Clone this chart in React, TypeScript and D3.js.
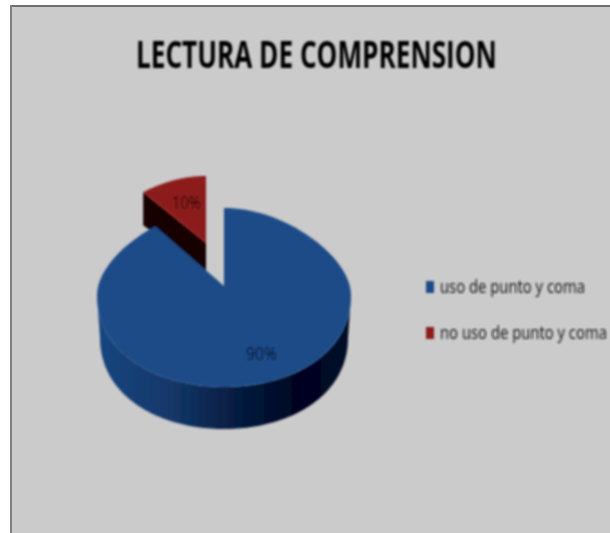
import React, { useLayoutEffect, useRef } from "react";
import * as d3 from "d3";

const categories = ["uso de punto y coma", "no uso de punto y coma"];
const values = [90, 10];
const labels = ["90%", "10%"];
const title = "LECTURA DE COMPRENSION";
const colors = ["#1c4b88", "#8c1c1c"];

const W = 610, H = 533;
const cx = 224, cy = 286;
const rx = 127, ryTop = 78, ryBottom = 101, drop = 10;

type Pt = [number, number];
const arcPoints = (a0: number, a1: number, rX: number, rTop: number, rBot: number, ox: number, oy: number): Pt[] =>
  d3.range(0, 121).map((i) => {
    const a = a0 + ((a1 - a0) * i) / 120;
    const c = Math.cos(a), s = Math.sin(a);
    const narrow = c > 0 ? 1 - 0.12 * c * c : 1;
    return [ox + rX * s * narrow, oy + drop * s * s - (c > 0 ? rTop : rBot) * c] as Pt;
  });

const line = d3.line<Pt>();

// Text squeezed horizontally to span a given width, starting at x.
function FitText({ x, y, width, size, weight, fill, children }: any) {
  const ref = useRef<SVGTextElement>(null);
  useLayoutEffect(() => {
    const el = ref.current!;
    const natural = el.getComputedTextLength();
    el.setAttribute("transform", `translate(${x},${y}) scale(${width / natural},1)`);
  }, [x, y, width, size]);
  return (
    <text ref={ref} transform={`translate(${x},${y})`} fontFamily="'Open Sans', sans-serif"
      fontWeight={weight ?? 400} fontSize={size} fill={fill}>{children}</text>
  );
}

export default function App() {
  const pie = d3.pie<number>().sort(null)(values);
  const blue = pie[0], red = pie[1];
  const top = arcPoints(blue.startAngle, blue.endAngle, rx, ryTop, ryBottom, cx, cy);
  const wallTop = arcPoints(Math.PI / 2, (3 * Math.PI) / 2, rx, ryTop, ryBottom, cx, cy);
  const wallBot = arcPoints((3 * Math.PI) / 2, Math.PI / 2, rx - 3, ryTop, ryBottom, cx, cy + 42);
  const rOx = cx - 18, rOy = 243;
  const redArc = arcPoints(red.startAngle, red.endAngle, 116, 67, 67, rOx, rOy);
  const redStart = redArc[0];
  const apex: Pt = [rOx, rOy];
  const redSide: Pt[] = [redStart, apex, [rOx, rOy + 28], [redStart[0], redStart[1] + 33]];
  return (
    <svg width={W} height={H} style={{ position: "absolute", left: 0, top: 0 }}>
      <defs>
        <linearGradient id="wall" x1="0" x2="1" y1="0" y2="0">
          <stop offset="0" stopColor="#1a4680" />
          <stop offset="0.3" stopColor="#133768" />
          <stop offset="0.55" stopColor="#061c40" />
          <stop offset="0.8" stopColor="#000320" />
          <stop offset="1" stopColor="#000c28" />
        </linearGradient>
        <filter id="soft" filterUnits="userSpaceOnUse" x={0} y={0} width={W} height={H}>
          <feGaussianBlur stdDeviation="0.8" />
        </filter>
      </defs>
      <rect width={W} height={H} fill="#ffffff" />
      <rect x={10} y={5} width={W - 10} height={H - 5} fill="#cbcbcb" />
      <rect x={10} y={5} width={W - 10} height={2} fill="#6f6f6f" />
      <rect x={10} y={5} width={2} height={H - 5} fill="#808080" />
      <g filter="url(#soft)">
        <FitText x={136} y={68} width={361} size={38} weight={700} fill="#050505">{title}</FitText>
        <path d={line(redSide)! + "Z"} fill="#180000" />
        <path d={line([apex, ...redArc])! + "Z"} fill={colors[1]} />
        <path d={line([...wallTop, ...wallBot])! + "Z"} fill="url(#wall)" />
        <path d={line([[cx, cy], ...top])! + "Z"} fill={colors[0]} />
        <FitText x={246} y={360} width={31} size={19} fill="#05152f">{labels[0]}</FitText>
        <FitText x={172} y={209} width={29} size={19} fill="#2a0505">{labels[1]}</FitText>
        {categories.map((c, i) => {
          const y = i === 0 ? 287 : 333;
          return (
            <g key={c}>
              <rect x={426} y={y - 6} width={8} height={12} fill={colors[i]} />
              <FitText x={440} y={y + 6} width={i === 0 ? 145 : 167} size={19} fill="#151515">{c}</FitText>
            </g>
          );
        })}
      </g>
    </svg>
  );
}
